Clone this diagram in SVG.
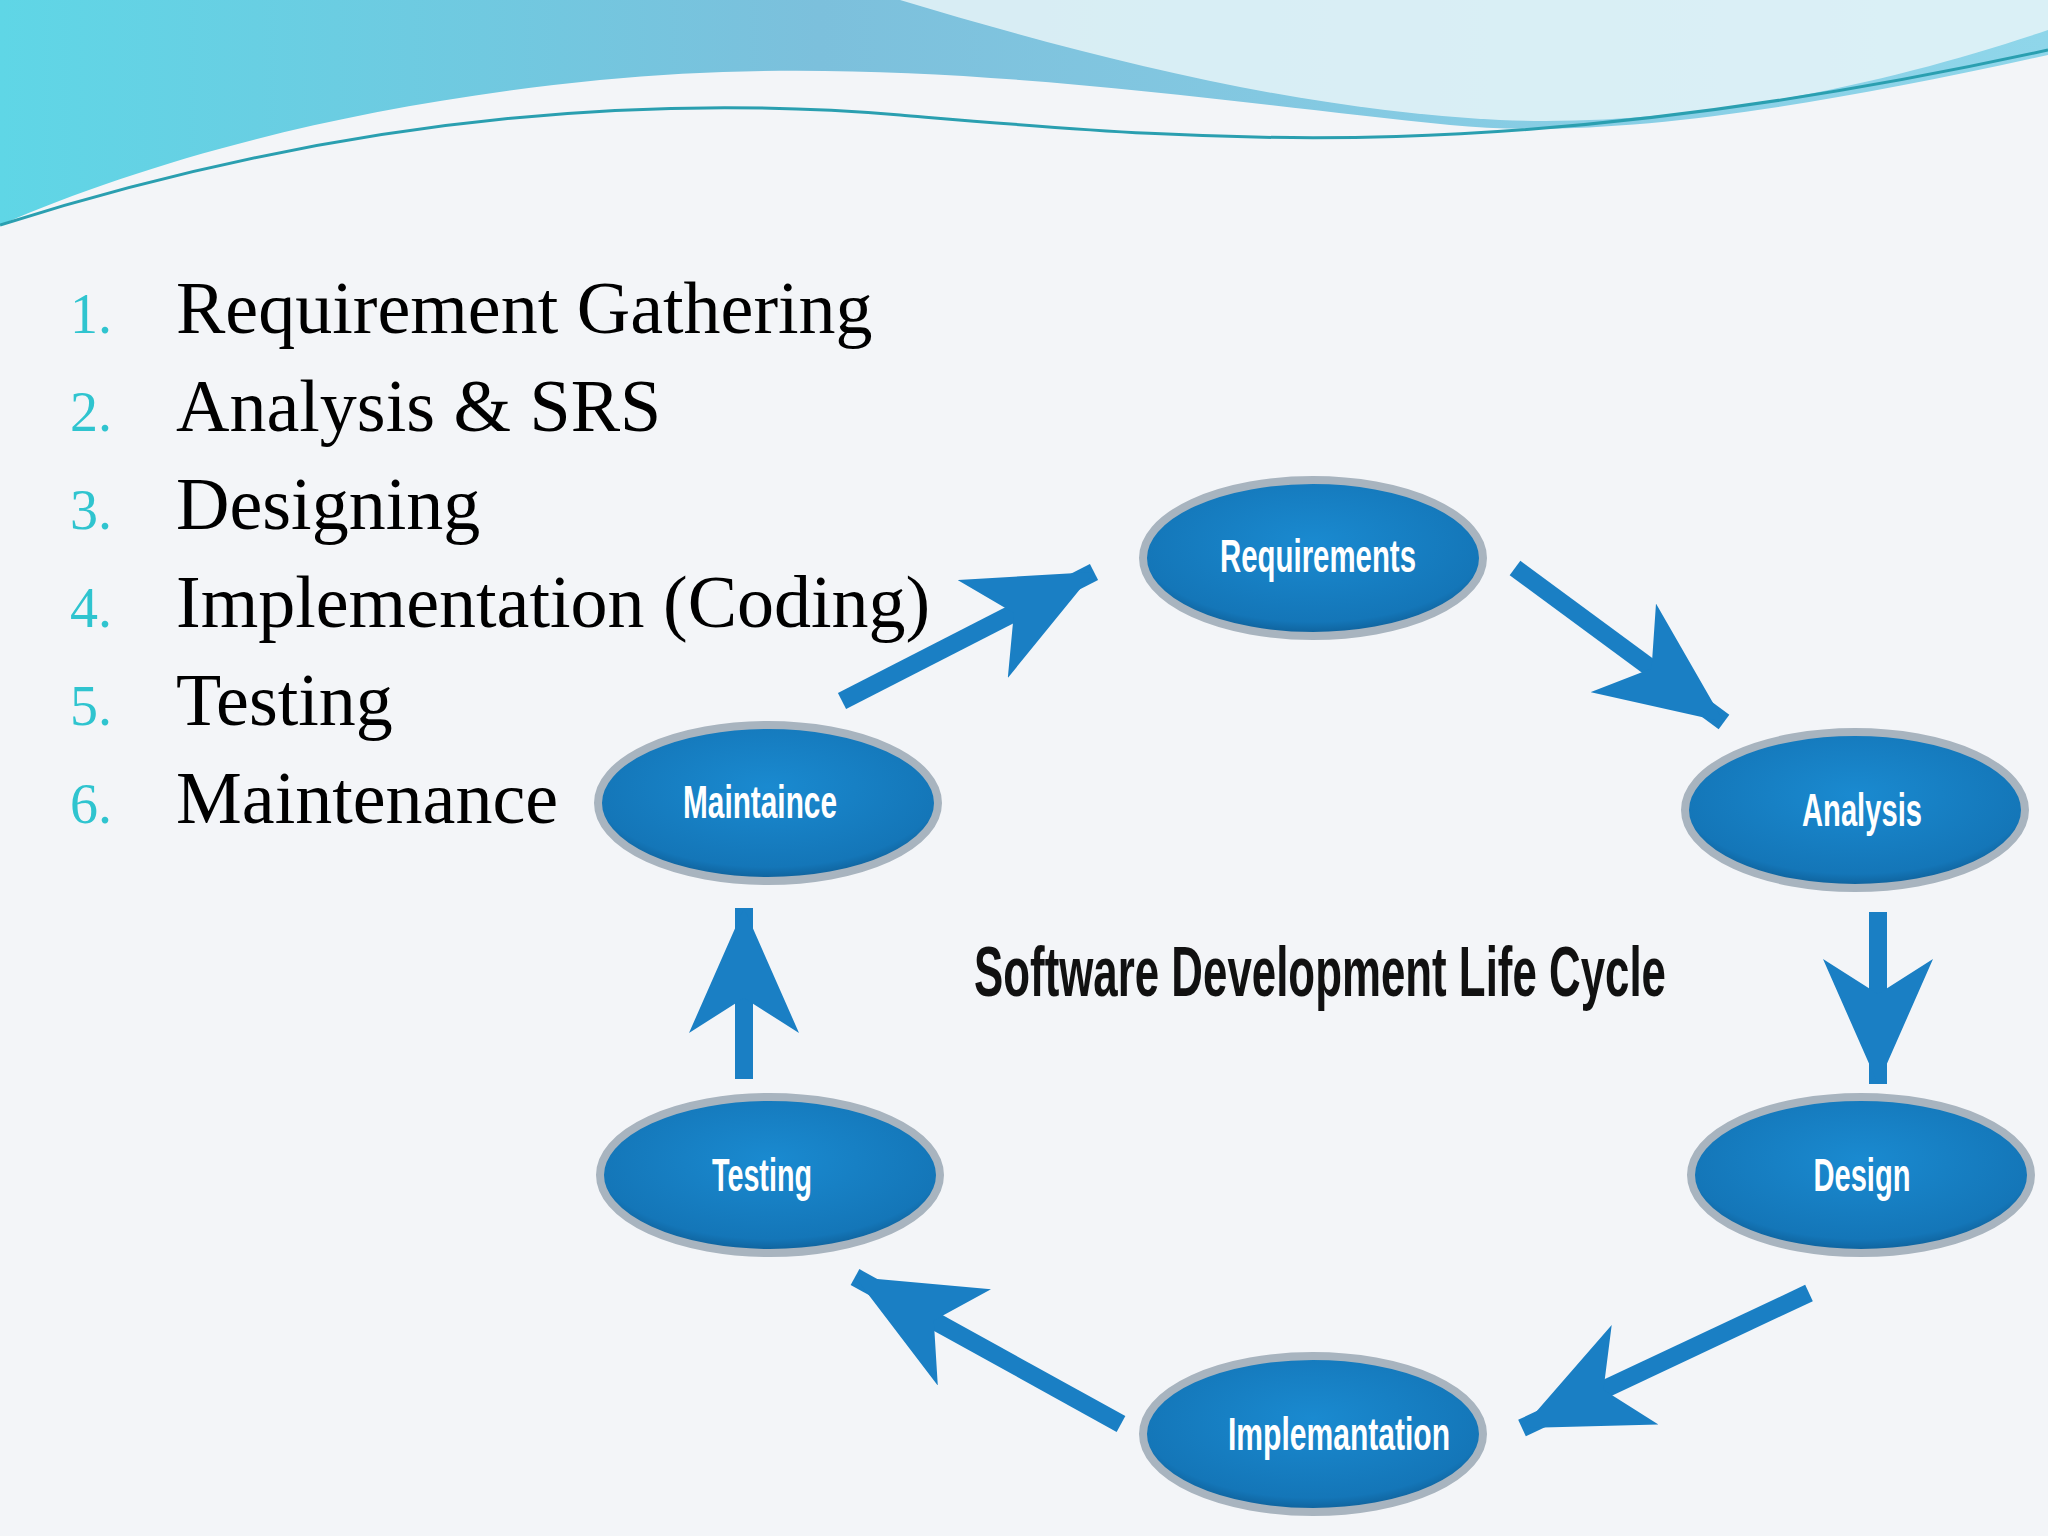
<svg xmlns="http://www.w3.org/2000/svg" width="2048" height="1536" viewBox="0 0 2048 1536">
<defs>
<linearGradient id="band" x1="0" y1="0" x2="1" y2="0">
<stop offset="0" stop-color="#5fd6e6"/><stop offset="0.4" stop-color="#7cc0dc"/><stop offset="1" stop-color="#8fd6ea"/>
</linearGradient>
<radialGradient id="node" cx="0.5" cy="0.4" r="0.6">
<stop offset="0" stop-color="#1a8ad0"/><stop offset="0.85" stop-color="#1476b8"/><stop offset="1" stop-color="#0e5e96"/>
</radialGradient>
<marker id="ah" markerUnits="userSpaceOnUse" markerWidth="130" markerHeight="110" refX="125" refY="55" orient="auto">
<path d="M0,0 L125,55 L0,110 L35,55 Z" fill="#1a7fc4"/>
</marker>
<style>
.n{fill:url(#node);stroke:#a8b4bf;stroke-width:8}
.nl{font-family:"Liberation Sans",sans-serif;font-weight:bold;fill:#fff;font-size:46px;text-anchor:middle}
.li{font-family:"Liberation Serif",serif;font-size:74px;fill:#000}
.num{font-family:"Liberation Serif",serif;font-size:56px;fill:#2fc4cf}
.c{stroke:#1a7fc4;stroke-width:18;fill:none;marker-end:url(#ah)}
</style>
</defs>
<rect width="2048" height="1536" fill="#f3f5f8"/>
<path d="M0,0 H2048 V55 C1800,110 1600,140 1450,125 C1200,100 900,50 600,80 C350,105 150,160 0,225 Z" fill="url(#band)"/>
<path d="M900,0 C1100,60 1300,110 1500,120 C1700,128 1900,80 2048,30 V0 Z" fill="#e8f4f8" opacity="0.85"/>
<path d="M0,225 C300,130 600,90 900,115 C1200,140 1500,170 2048,50" stroke="#2a9fb0" stroke-width="3" fill="none"/>
<g id="list">
<text class="num" x="70" y="333">1.</text><text class="li" x="176" y="333">Requirement Gathering</text>
<text class="num" x="70" y="431">2.</text><text class="li" x="176" y="431">Analysis &amp; SRS</text>
<text class="num" x="70" y="529">3.</text><text class="li" x="176" y="529">Designing</text>
<text class="num" x="70" y="627">4.</text><text class="li" x="176" y="627">Implementation (Coding)</text>
<text class="num" x="70" y="725">5.</text><text class="li" x="176" y="725">Testing</text>
<text class="num" x="70" y="823">6.</text><text class="li" x="176" y="823">Maintenance</text>
</g>
<g id="connectors">
<line class="c" x1="842" y1="701" x2="1094" y2="572"/>
<line class="c" x1="1515" y1="568" x2="1724" y2="722"/>
<line class="c" x1="1878" y1="912" x2="1878" y2="1084"/>
<line class="c" x1="1809" y1="1293" x2="1522" y2="1428"/>
<line class="c" x1="1121" y1="1424" x2="855" y2="1277"/>
<line class="c" x1="744" y1="1079" x2="744" y2="908"/>
</g>
<g id="requirements"><ellipse class="n" cx="1313" cy="558" rx="170" ry="78"/><text class="nl" x="1318" y="572" textLength="196" lengthAdjust="spacingAndGlyphs">Requirements</text></g>
<g id="analysis"><ellipse class="n" cx="1855" cy="810" rx="170" ry="78"/><text class="nl" x="1862" y="826" textLength="120" lengthAdjust="spacingAndGlyphs">Analysis</text></g>
<g id="design"><ellipse class="n" cx="1861" cy="1175" rx="170" ry="78"/><text class="nl" x="1862" y="1191" textLength="97" lengthAdjust="spacingAndGlyphs">Design</text></g>
<g id="implemantation"><ellipse class="n" cx="1313" cy="1434" rx="170" ry="78"/><text class="nl" x="1339" y="1450" textLength="222" lengthAdjust="spacingAndGlyphs">Implemantation</text></g>
<g id="testing"><ellipse class="n" cx="770" cy="1175" rx="170" ry="78"/><text class="nl" x="762" y="1191" textLength="100" lengthAdjust="spacingAndGlyphs">Testing</text></g>
<g id="maintaince"><ellipse class="n" cx="768" cy="803" rx="170" ry="78"/><text class="nl" x="760" y="818" textLength="154" lengthAdjust="spacingAndGlyphs">Maintaince</text></g>
<text id="title" x="1320" y="996" font-family="'Liberation Sans',sans-serif" font-weight="bold" font-size="70" text-anchor="middle" fill="#111" textLength="692" lengthAdjust="spacingAndGlyphs">Software Development Life Cycle</text>
</svg>
